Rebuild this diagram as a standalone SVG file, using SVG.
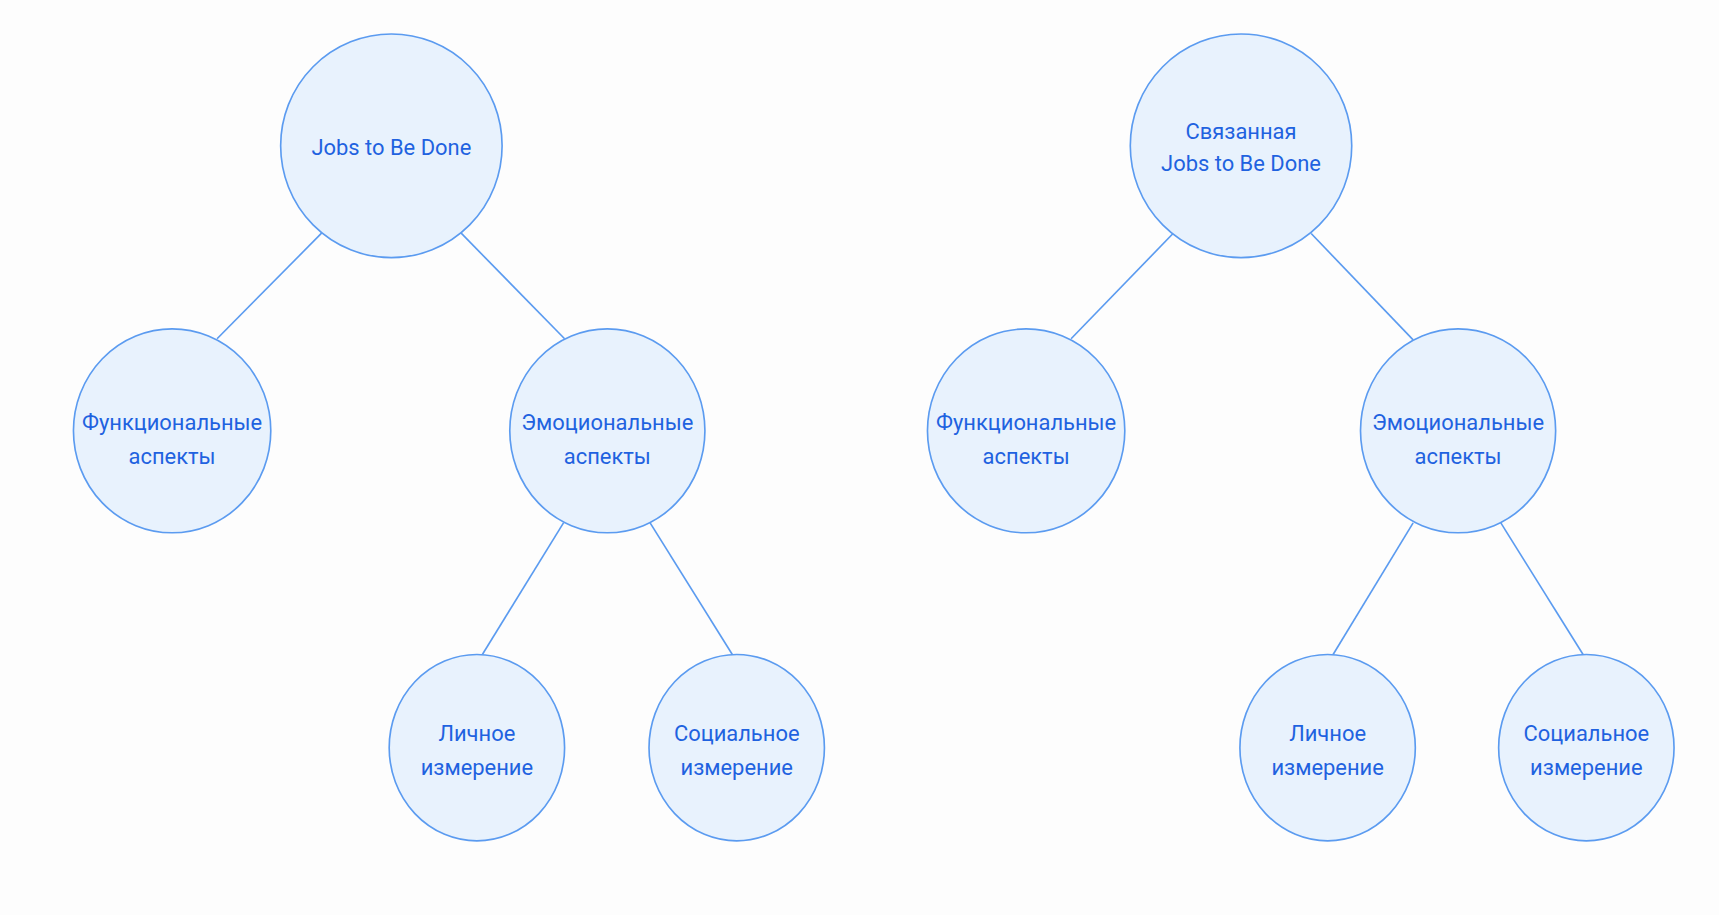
<svg xmlns="http://www.w3.org/2000/svg" width="1719" height="915" viewBox="0 0 1719 915">
<style>
.n{fill:#e8f2fd;stroke:#5b9bf0;stroke-width:1.5}
.c line{stroke:#5b9bf0;stroke-width:1.5}
text{font-family:Roboto,"Liberation Sans",sans-serif;font-size:20px;fill:#1f62e0;text-anchor:middle}
</style>
<rect width="1719" height="915" fill="#fdfdfd"/>
<g transform="scale(1.0963)">
<g class="c">
<line x1="294" y1="212" x2="198" y2="309"/>
<line x1="420" y1="212" x2="515" y2="309"/>
<line x1="514" y1="477" x2="440" y2="597"/>
<line x1="593" y1="477" x2="668" y2="597"/>
<line x1="1070" y1="213" x2="977" y2="309"/>
<line x1="1196" y1="213" x2="1289" y2="310"/>
<line x1="1289" y1="477" x2="1216" y2="597"/>
<line x1="1369" y1="477" x2="1444" y2="597"/>
</g>
<g id="root1"><ellipse class="n" cx="357" cy="133" rx="101" ry="102"/><text x="357" y="141">Jobs to Be Done</text></g>
<g id="func1"><ellipse class="n" cx="157" cy="393" rx="90" ry="93"/><text x="157" y="392">Функциональные</text><text x="157" y="423">аспекты</text></g>
<g id="emo1"><ellipse class="n" cx="554" cy="393" rx="89" ry="93"/><text x="554" y="392">Эмоциональные</text><text x="554" y="423">аспекты</text></g>
<g id="lich1"><ellipse class="n" cx="435" cy="682" rx="80" ry="85"/><text x="435" y="676">Личное</text><text x="435" y="707">измерение</text></g>
<g id="soc1"><ellipse class="n" cx="672" cy="682" rx="80" ry="85"/><text x="672" y="676">Социальное</text><text x="672" y="707">измерение</text></g>
<g id="root2"><ellipse class="n" cx="1132" cy="133" rx="101" ry="102"/><text x="1132" y="127">Связанная</text><text x="1132" y="156">Jobs to Be Done</text></g>
<g id="func2"><ellipse class="n" cx="936" cy="393" rx="90" ry="93"/><text x="936" y="392">Функциональные</text><text x="936" y="423">аспекты</text></g>
<g id="emo2"><ellipse class="n" cx="1330" cy="393" rx="89" ry="93"/><text x="1330" y="392">Эмоциональные</text><text x="1330" y="423">аспекты</text></g>
<g id="lich2"><ellipse class="n" cx="1211" cy="682" rx="80" ry="85"/><text x="1211" y="676">Личное</text><text x="1211" y="707">измерение</text></g>
<g id="soc2"><ellipse class="n" cx="1447" cy="682" rx="80" ry="85"/><text x="1447" y="676">Социальное</text><text x="1447" y="707">измерение</text></g>
</g>
</svg>
